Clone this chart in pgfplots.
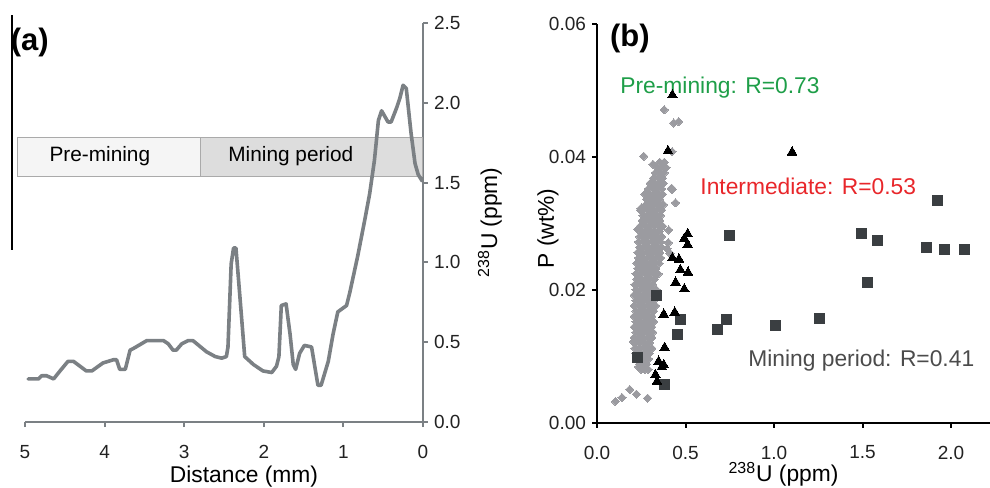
\documentclass[border=0pt]{standalone}
\usepackage{pgfplots}
\pgfplotsset{compat=1.18}
\usepackage{fontspec}
\setmainfont{Liberation Sans}
\setsansfont{Liberation Sans}

\definecolor{curvegray}{RGB}{123,128,132}
\definecolor{boxlight}{RGB}{245,245,245}
\definecolor{boxdark}{RGB}{221,221,221}
\definecolor{boxedge}{RGB}{170,170,170}
\definecolor{diamondgray}{RGB}{155,155,160}
\definecolor{squaregray}{RGB}{58,62,65}
\definecolor{premgreen}{RGB}{30,158,72}
\definecolor{interred}{RGB}{232,38,42}
\definecolor{mintext}{RGB}{75,75,75}
\definecolor{ticktext}{RGB}{34,34,34}

% profile (a): distance (mm), 238U (ppm)
\pgfplotstableread{
x y
4.96 0.27
4.83 0.27
4.79 0.29
4.73 0.29
4.64 0.27
4.56 0.32
4.46 0.38
4.39 0.38
4.23 0.32
4.16 0.32
4.02 0.37
3.89 0.39
3.85 0.39
3.81 0.33
3.74 0.33
3.68 0.45
3.64 0.46
3.47 0.51
3.26 0.51
3.20 0.49
3.14 0.45
3.10 0.45
3.03 0.49
2.95 0.51
2.89 0.51
2.72 0.44
2.61 0.41
2.53 0.40
2.47 0.41
2.45 0.47
2.41 0.99
2.38 1.09
2.35 1.09
2.33 0.97
2.28 0.66
2.24 0.41
2.13 0.36
2.01 0.32
1.90 0.31
1.84 0.35
1.81 0.41
1.78 0.73
1.72 0.74
1.67 0.55
1.63 0.36
1.60 0.33
1.55 0.43
1.49 0.48
1.40 0.47
1.36 0.35
1.32 0.23
1.28 0.23
1.19 0.38
1.13 0.55
1.07 0.69
0.96 0.73
0.92 0.81
0.82 1.04
0.73 1.27
0.67 1.43
0.61 1.64
0.56 1.89
0.52 1.95
0.44 1.88
0.40 1.88
0.33 1.97
0.29 2.03
0.25 2.11
0.21 2.09
0.15 1.81
0.10 1.62
0.06 1.55
0.01 1.51
}\profile

% (b) pre-mining
\pgfplotstableread{
x y
0.104 0.0032
0.141 0.0038
0.185 0.0050
0.222 0.0043
0.286 0.0037
0.235 0.0084
0.205 0.0122
0.380 0.0471
0.433 0.0451
0.461 0.0453
0.264 0.0401
0.316 0.0389
0.424 0.0408
0.424 0.0351
0.443 0.0331
0.422 0.0353
0.245 0.0320
0.249 0.0323
0.230 0.0291
0.405 0.0290
0.395 0.0262
0.403 0.0271
0.412 0.0255
0.25 0.0080
0.27 0.0080
0.29 0.0080
0.24 0.0088
0.26 0.0088
0.28 0.0088
0.23 0.0096
0.25 0.0096
0.27 0.0096
0.29 0.0096
0.22 0.0104
0.245 0.0104
0.27 0.0104
0.295 0.0104
0.215 0.0112
0.24 0.0112
0.265 0.0112
0.29 0.0112
0.31 0.0112
0.22 0.0120
0.245 0.0120
0.27 0.0120
0.295 0.0120
0.21 0.0128
0.235 0.0128
0.26 0.0128
0.285 0.0128
0.31 0.0128
0.22 0.0136
0.245 0.0136
0.27 0.0136
0.295 0.0136
0.315 0.0136
0.21 0.0144
0.235 0.0144
0.26 0.0144
0.285 0.0144
0.31 0.0144
0.22 0.0152
0.245 0.0152
0.27 0.0152
0.295 0.0152
0.32 0.0152
0.21 0.0160
0.235 0.0160
0.26 0.0160
0.285 0.0160
0.31 0.0160
0.22 0.0168
0.245 0.0168
0.27 0.0168
0.295 0.0168
0.32 0.0168
0.21 0.0176
0.235 0.0176
0.26 0.0176
0.285 0.0176
0.31 0.0176
0.33 0.0176
0.22 0.0184
0.245 0.0184
0.27 0.0184
0.295 0.0184
0.32 0.0184
0.21 0.0192
0.235 0.0192
0.26 0.0192
0.285 0.0192
0.31 0.0192
0.22 0.0200
0.245 0.0200
0.27 0.0200
0.295 0.0200
0.32 0.0200
0.335 0.0200
0.215 0.0208
0.24 0.0208
0.265 0.0208
0.29 0.0208
0.315 0.0208
0.225 0.0216
0.25 0.0216
0.275 0.0216
0.30 0.0216
0.325 0.0216
0.22 0.0224
0.245 0.0224
0.27 0.0224
0.295 0.0224
0.32 0.0224
0.345 0.0224
0.23 0.0232
0.255 0.0232
0.28 0.0232
0.305 0.0232
0.33 0.0232
0.225 0.0240
0.25 0.0240
0.275 0.0240
0.30 0.0240
0.325 0.0240
0.35 0.0240
0.235 0.0248
0.26 0.0248
0.285 0.0248
0.31 0.0248
0.335 0.0248
0.36 0.0248
0.23 0.0256
0.255 0.0256
0.28 0.0256
0.305 0.0256
0.33 0.0256
0.355 0.0256
0.24 0.0264
0.265 0.0264
0.29 0.0264
0.315 0.0264
0.34 0.0264
0.365 0.0264
0.235 0.0272
0.26 0.0272
0.285 0.0272
0.31 0.0272
0.335 0.0272
0.36 0.0272
0.24 0.0280
0.265 0.0280
0.29 0.0280
0.315 0.0280
0.34 0.0280
0.365 0.0280
0.25 0.0288
0.275 0.0288
0.30 0.0288
0.325 0.0288
0.35 0.0288
0.245 0.0296
0.27 0.0296
0.295 0.0296
0.32 0.0296
0.345 0.0296
0.37 0.0296
0.255 0.0304
0.28 0.0304
0.305 0.0304
0.33 0.0304
0.355 0.0304
0.26 0.0312
0.285 0.0312
0.31 0.0312
0.335 0.0312
0.36 0.0312
0.265 0.0320
0.29 0.0320
0.315 0.0320
0.34 0.0320
0.365 0.0320
0.275 0.0328
0.30 0.0328
0.325 0.0328
0.35 0.0328
0.375 0.0328
0.28 0.0336
0.305 0.0336
0.33 0.0336
0.355 0.0336
0.27 0.0344
0.295 0.0344
0.32 0.0344
0.345 0.0344
0.37 0.0344
0.29 0.0352
0.315 0.0352
0.34 0.0352
0.365 0.0352
0.30 0.0360
0.325 0.0360
0.35 0.0360
0.375 0.0360
0.32 0.0368
0.345 0.0368
0.37 0.0368
0.33 0.0376
0.355 0.0376
0.38 0.0376
0.34 0.0384
0.365 0.0384
0.39 0.0384
0.355 0.0392
0.38 0.0392
}\premining

% (b) intermediate
\pgfplotstableread{
x y
0.426 0.0493
0.401 0.0409
1.102 0.0407
0.512 0.0284
0.493 0.0277
0.512 0.0268
0.426 0.0248
0.463 0.0246
0.471 0.0230
0.514 0.0226
0.444 0.0211
0.493 0.0201
0.377 0.0163
0.439 0.0166
0.382 0.0113
0.348 0.0092
0.367 0.0084
0.330 0.0072
0.339 0.0062
0.377 0.0087
}\intermediate

% (b) mining period
\pgfplotstableread{
x y
0.335 0.0191
0.230 0.0098
0.384 0.0057
0.471 0.0156
0.456 0.0132
0.682 0.0140
0.734 0.0156
0.746 0.0282
1.011 0.0147
1.254 0.0157
1.493 0.0285
1.586 0.0274
1.527 0.0211
1.864 0.0263
1.921 0.0334
1.962 0.0261
2.075 0.0261
}\miningperiod

\begin{document}
\begin{tikzpicture}
\path[use as bounding box] (0,0) rectangle (495pt,243.5pt);

\pgfplotsset{
  every tick label/.append style={font=\fontsize{9.5}{11}\selectfont, text=ticktext},
  /pgf/number format/assume math mode=true,
}

% ---------- (a)
\begin{axis}[
  at={(12.5pt,32.5pt)}, anchor=south west,
  scale only axis, width=199pt, height=199.5pt,
  xmin=0, xmax=5, x dir=reverse,
  ymin=0, ymax=2.5,
  axis x line=bottom, axis y line=right,
  axis line style={-, draw=curvegray, line width=1pt},
  tick style={draw=curvegray, line width=1pt},
  tick align=outside, major tick length=2.5pt,
  xtick={0,1,2,3,4,5},
  ytick={0,0.5,1,1.5,2,2.5},
  yticklabel style={/pgf/number format/fixed, /pgf/number format/fixed zerofill, /pgf/number format/precision=1, xshift=-0.5pt},
  xticklabel style={yshift=-5.8pt},
  xlabel={Distance (mm)},
  xlabel style={font=\fontsize{11.4}{13}\selectfont, at={(axis description cs:0.5,0)}, anchor=center, yshift=-27.5pt, xshift=10pt},
  ylabel={\textsuperscript{238}U (ppm)},
  ylabel style={font=\fontsize{11.4}{13}\selectfont, at={(axis description cs:1,0.5)}, anchor=center, yshift=-33.5pt},
  clip=false,
]
\draw[boxedge, line width=0.5pt, fill=boxlight] (axis cs:5.1,1.54) rectangle (axis cs:2.8,1.78);
\draw[boxedge, line width=0.5pt, fill=boxdark] (axis cs:2.8,1.54) rectangle (axis cs:0,1.78);
\node[font=\fontsize{10.4}{12}\selectfont] at (axis cs:4.06,1.667) {Pre-mining};
\node[font=\fontsize{10.4}{12}\selectfont] at (axis cs:1.66,1.667) {Mining period};
\addplot[curvegray, line width=1.8pt, line join=round, line cap=round, no marks] table {\profile};
\draw[black, line width=0.75pt] (axis cs:5.163,2.55) -- (axis cs:5.163,1.078);
\node[font=\fontsize{15.5}{17}\selectfont\bfseries] at (axis cs:4.94,2.375) {(a)};
\end{axis}

% ---------- (b)
\begin{axis}[
  at={(298.5pt,32.15pt)}, anchor=south west,
  scale only axis, width=196.5pt, height=199.35pt,
  xmin=0, xmax=2.22,
  ymin=0, ymax=0.06,
  axis x line=bottom, axis y line=left,
  axis line style={-, draw=black, line width=1pt},
  tick style={draw=black, line width=1pt},
  tick align=outside, major tick length=2.5pt,
  xtick={0,0.5,1,1.5,2},
  ytick={0,0.02,0.04,0.06},
  scaled y ticks=false, scaled x ticks=false,
  xticklabel style={/pgf/number format/fixed, /pgf/number format/fixed zerofill, /pgf/number format/precision=1, yshift=-5.5pt},
  yticklabel style={/pgf/number format/fixed, /pgf/number format/fixed zerofill, /pgf/number format/precision=2, xshift=0.5pt},
  xlabel={\textsuperscript{238}U (ppm)},
  xlabel style={font=\fontsize{11.4}{13}\selectfont, at={(axis description cs:0.5,0)}, anchor=center, yshift=-26pt, xshift=-5pt},
  ylabel={P (wt\%)},
  ylabel style={font=\fontsize{11.4}{13}\selectfont, at={(axis description cs:0,0.5)}, anchor=center, yshift=24.5pt, xshift=-2.5pt},
  clip=false,
]
\addplot[only marks, mark=square*, mark size=1.45pt, mark options={rotate=45, fill=diamondgray, draw=diamondgray, line width=0pt}] table {\premining};
\addplot[only marks, mark=square*, mark size=2.5pt, mark options={fill=squaregray, draw=squaregray, line width=0pt}] table {\miningperiod};
\addplot[only marks, mark=triangle*, mark size=2.8pt, mark options={fill=black, draw=black, line width=0pt}] table {\intermediate};
\node[font=\fontsize{15.5}{17}\selectfont\bfseries] at (axis cs:0.186,0.0578) {(b)};
\node[font=\fontsize{11.4}{13}\selectfont, text=premgreen, anchor=west, inner sep=0pt] at (axis cs:0.13,0.0504) {Pre-mining: R=0.73};
\node[font=\fontsize{11.4}{13}\selectfont, text=interred, anchor=west, inner sep=0pt] at (axis cs:0.582,0.0355) {Intermediate: R=0.53};
\node[font=\fontsize{11.4}{13}\selectfont, text=mintext, anchor=west, inner sep=0pt] at (axis cs:0.853,0.0094) {Mining period: R=0.41};
\end{axis}
\end{tikzpicture}
\end{document}
